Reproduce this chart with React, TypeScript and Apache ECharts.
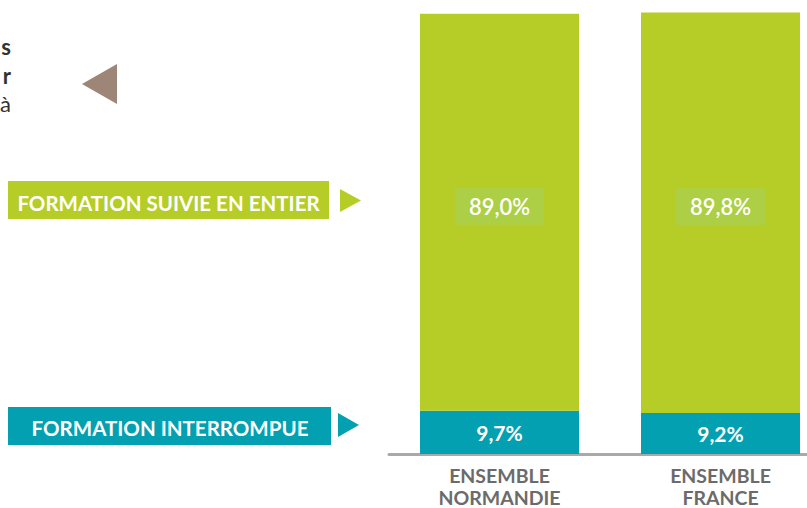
import React, { useEffect, useRef } from "react";
import * as echarts from "echarts";

const categories = ["ENSEMBLE\nNORMANDIE", "ENSEMBLE\nFRANCE"];
const interrompue = [9.7, 9.2];
const suivieEntier = [89.0, 89.8];
const legendLabels = ["FORMATION SUIVIE EN ENTIER", "FORMATION INTERROMPUE"];
const cutTexts = ["s", "r", "à"];

const GREEN = "#b7cd27";
const TEAL = "#03a0b1";
const FONT = "Lato, 'Open Sans', sans-serif";

const fmt = (p: any) => p.value.toFixed(1).replace(".", ",") + "%";

export default function App() {
  const ref = useRef<HTMLDivElement>(null);
  useEffect(() => {
    document.body.style.margin = "0";
    const chart = echarts.init(ref.current!, null, { renderer: "svg" });
    chart.setOption({
      animation: false,
      backgroundColor: "#ffffff",
      textStyle: { fontFamily: FONT },
      grid: {
        left: 389,
        right: -24,
        top: 8,
        bottom: 54,
        containLabel: false,
        outerBoundsMode: "none",
      },
      xAxis: {
        type: "category",
        data: categories,
        axisTick: { show: false },
        axisLine: { lineStyle: { color: "#a9a9a9", width: 3 } },
        axisLabel: {
          color: "#6b6b6b",
          fontWeight: "bold",
          fontSize: 19.5,
          lineHeight: 22,
          margin: 10,
          fontFamily: FONT,
        },
      },
      yAxis: { type: "value", min: 0, max: 100, show: false },
      series: [
        {
          type: "bar",
          stack: "t",
          barWidth: 159,
          data: interrompue,
          itemStyle: { color: TEAL },
          label: {
            show: true,
            position: "inside",
            formatter: fmt,
            color: "#ffffff",
            fontWeight: "bold",
            fontSize: 21,
            fontFamily: FONT,
          },
        },
        {
          type: "bar",
          stack: "t",
          barWidth: 159,
          data: suivieEntier,
          itemStyle: { color: GREEN },
          label: {
            show: true,
            position: "inside",
            formatter: fmt,
            color: "#ffffff",
            fontWeight: 600,
            fontSize: 22,
            fontFamily: FONT,
            backgroundColor: "#accf45",
            padding: [8, 14, 7, 14],
            offset: [0, -6],
          },
        },
      ],
      graphic: [
        ...cutTexts.map((t, i) => ({
          type: "text",
          x: 11,
          y: [57, 86, 114][i],
          style: {
            text: t,
            fill: "#333333",
            font: `${i < 2 ? "bold " : ""}22px ${FONT}`,
            textAlign: "right",
            textVerticalAlign: "bottom",
          },
        })),
        {
          type: "polygon",
          shape: { points: [[82, 84], [117, 64], [117, 104]] },
          style: { fill: "#9d8578" },
        },
        {
          type: "rect",
          shape: { x: 8, y: 181, width: 321, height: 38 },
          style: { fill: GREEN },
        },
        {
          type: "text",
          x: 168.5,
          y: 203,
          style: {
            text: legendLabels[0],
            fill: "#ffffff",
            font: `bold 20.5px ${FONT}`,
            textAlign: "center",
            textVerticalAlign: "middle",
          },
        },
        {
          type: "polygon",
          shape: { points: [[340, 189], [361, 200.5], [340, 212]] },
          style: { fill: GREEN },
        },
        {
          type: "rect",
          shape: { x: 8, y: 407, width: 323, height: 38 },
          style: { fill: TEAL },
        },
        {
          type: "text",
          x: 170,
          y: 428,
          style: {
            text: legendLabels[1],
            fill: "#ffffff",
            font: `bold 20.5px ${FONT}`,
            textAlign: "center",
            textVerticalAlign: "middle",
          },
        },
        {
          type: "polygon",
          shape: { points: [[338, 413], [359, 425], [338, 437]] },
          style: { fill: TEAL },
        },
      ],
    });
    return () => chart.dispose();
  }, []);
  return <div ref={ref} style={{ width: 807, height: 508 }} />;
}
